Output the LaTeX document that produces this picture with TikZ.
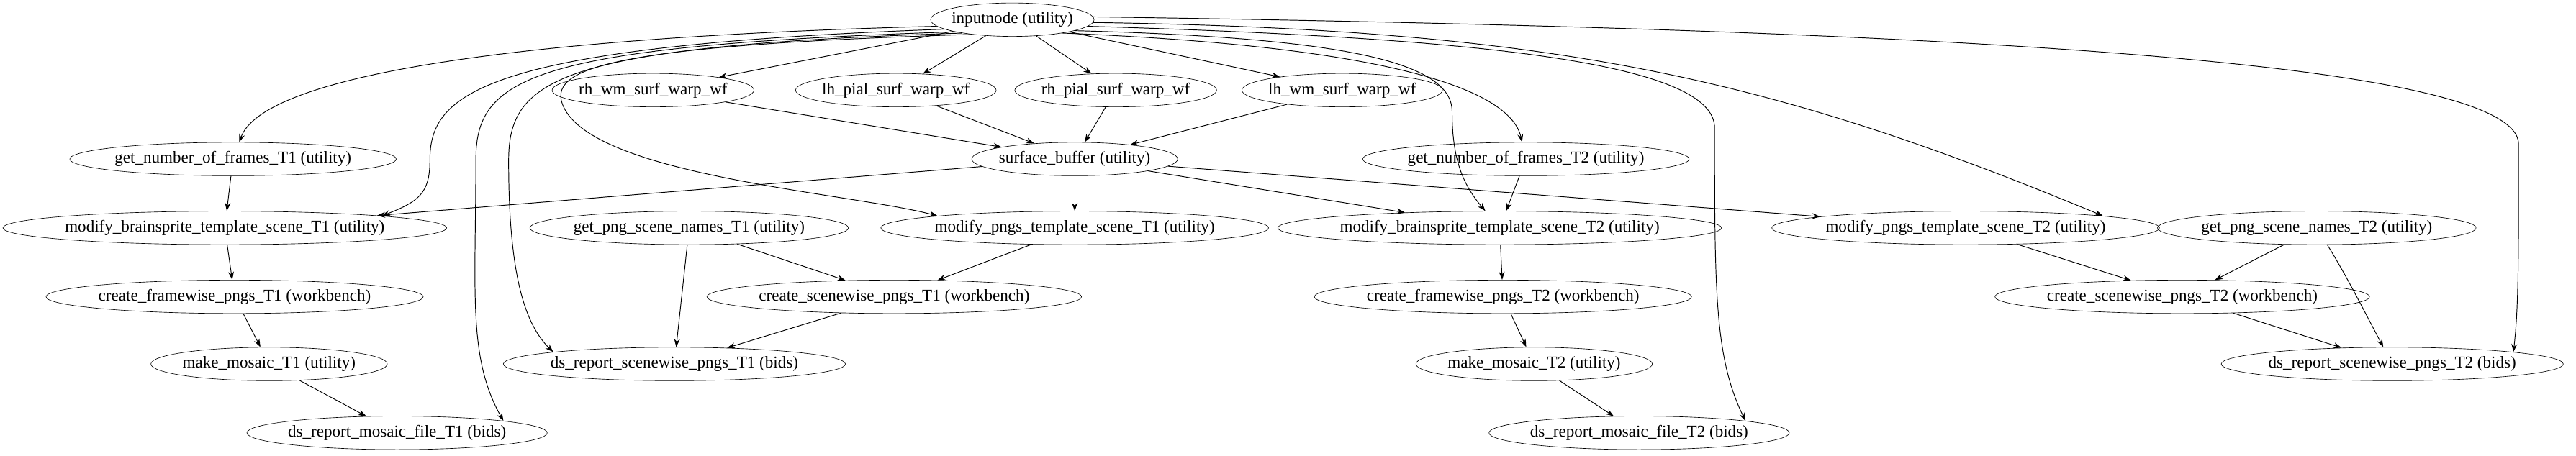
\documentclass[tikz,border=0pt]{standalone}
\usepackage{fontspec}
\setmainfont{Liberation Serif}
\usetikzlibrary{shapes.geometric,arrows.meta}
\tikzset{
  wf/.style={draw, ellipse, inner xsep=-2.5pt, inner ysep=0pt, minimum height=1.02cm, font=\fontsize{14.4}{16}\selectfont},
  flow/.style={-{Stealth[length=7pt,width=5pt]}, line width=0.6pt}
}
\begin{document}
\begin{tikzpicture}[x=0.05cm,y=0.05cm]
  \useasboundingbox (0,0) rectangle (1570,278);
  \node[wf] (inp) at (617,266) {inputnode (utility)};

  \node[wf] (rhwm) at (398,223) {rh\_wm\_surf\_warp\_wf};
  \node[wf] (lhpial) at (546,223) {lh\_pial\_surf\_warp\_wf};
  \node[wf] (rhpial) at (680,223) {rh\_pial\_surf\_warp\_wf};
  \node[wf] (lhwm) at (818,223) {lh\_wm\_surf\_warp\_wf};

  \node[wf] (gnf1) at (142,181) {get\_number\_of\_frames\_T1 (utility)};
  \node[wf] (buf) at (655,181) {surface\_buffer (utility)};
  \node[wf] (gnf2) at (930,181) {get\_number\_of\_frames\_T2 (utility)};

  \node[wf] (mbs1) at (137,139) {modify\_brainsprite\_template\_scene\_T1 (utility)};
  \node[wf] (gpn1) at (420,139) {get\_png\_scene\_names\_T1 (utility)};
  \node[wf] (mpng1) at (655,139) {modify\_pngs\_template\_scene\_T1 (utility)};
  \node[wf] (mbs2) at (914,139) {modify\_brainsprite\_template\_scene\_T2 (utility)};
  \node[wf] (mpng2) at (1198,139) {modify\_pngs\_template\_scene\_T2 (utility)};
  \node[wf] (gpn2) at (1412,139) {get\_png\_scene\_names\_T2 (utility)};

  \node[wf] (cfp1) at (143,97) {create\_framewise\_pngs\_T1 (workbench)};
  \node[wf] (csp1) at (545,97) {create\_scenewise\_pngs\_T1 (workbench)};
  \node[wf] (cfp2) at (916,97) {create\_framewise\_pngs\_T2 (workbench)};
  \node[wf] (csp2) at (1330,97) {create\_scenewise\_pngs\_T2 (workbench)};

  \node[wf] (mm1) at (164,56) {make\_mosaic\_T1 (utility)};
  \node[wf] (dss1) at (411,56) {ds\_report\_scenewise\_pngs\_T1 (bids)};
  \node[wf] (mm2) at (935,56) {make\_mosaic\_T2 (utility)};
  \node[wf] (dss2) at (1458,56) {ds\_report\_scenewise\_pngs\_T2 (bids)};

  \node[wf] (dsm1) at (242,14) {ds\_report\_mosaic\_file\_T1 (bids)};
  \node[wf] (dsm2) at (999,14) {ds\_report\_mosaic\_file\_T2 (bids)};

  % from inputnode
  \draw[flow] (inp) -- (rhwm);
  \draw[flow] (inp) -- (lhpial);
  \draw[flow] (inp) -- (rhpial);
  \draw[flow] (inp) -- (lhwm);
  \draw[flow] (inp.185) .. controls (300,255) and (160,230) .. (gnf1);
  \draw[flow] (inp.188) .. controls (290,250) and (262,220) .. (262,180) .. controls (262,160) and (255,155) .. (mbs1.north east);
  \draw[flow] (inp.192) .. controls (320,250) and (290,230) .. (290,180) .. controls (290,100) and (285,60) .. (dsm1.north east);
  \draw[flow] (inp.195) .. controls (340,250) and (310,230) .. (310,180) .. controls (310,110) and (320,80) .. (dss1.north west);
  \draw[flow] (inp.200) .. controls (360,250) and (330,235) .. (345,210) .. controls (370,170) and (520,160) .. (mpng1.north west);
  \draw[flow] (inp.350) .. controls (820,255) and (885,240) .. (885,210) .. controls (885,180) and (892,165) .. (mbs2);
  \draw[flow] (inp.345) .. controls (840,250) and (920,225) .. (gnf2);
  \draw[flow] (inp.355) .. controls (900,255) and (1045,240) .. (1045,200) .. controls (1045,100) and (1045,60) .. (dsm2.north east);
  \draw[flow] (inp.358) .. controls (950,260) and (1080,230) .. (mpng2.north east);
  \draw[flow] (inp.2) .. controls (1200,260) and (1535,240) .. (1535,190) .. controls (1535,120) and (1535,90) .. (dss2.north east);

  % surface warps
  \draw[flow] (rhwm) -- (buf);
  \draw[flow] (lhpial) -- (buf);
  \draw[flow] (rhpial) -- (buf);
  \draw[flow] (lhwm) -- (buf);

  \draw[flow] (gnf1) -- (mbs1);
  \draw[flow] (buf) -- (mbs1);
  \draw[flow] (buf) -- (mpng1);
  \draw[flow] (buf) -- (mbs2);
  \draw[flow] (buf) -- (mpng2);
  \draw[flow] (gnf2) -- (mbs2);

  % T1 chain
  \draw[flow] (mbs1) -- (cfp1);
  \draw[flow] (cfp1) -- (mm1);
  \draw[flow] (mm1) -- (dsm1);
  \draw[flow] (gpn1) -- (csp1);
  \draw[flow] (gpn1) -- (dss1);
  \draw[flow] (mpng1) -- (csp1);
  \draw[flow] (csp1) -- (dss1);

  % T2 chain
  \draw[flow] (mbs2) -- (cfp2);
  \draw[flow] (cfp2) -- (mm2);
  \draw[flow] (mm2) -- (dsm2);
  \draw[flow] (mpng2) -- (csp2);
  \draw[flow] (gpn2) -- (csp2);
  \draw[flow] (gpn2) .. controls (1430,110) and (1440,90) .. (dss2);
  \draw[flow] (csp2) -- (dss2);
\end{tikzpicture}
\end{document}
